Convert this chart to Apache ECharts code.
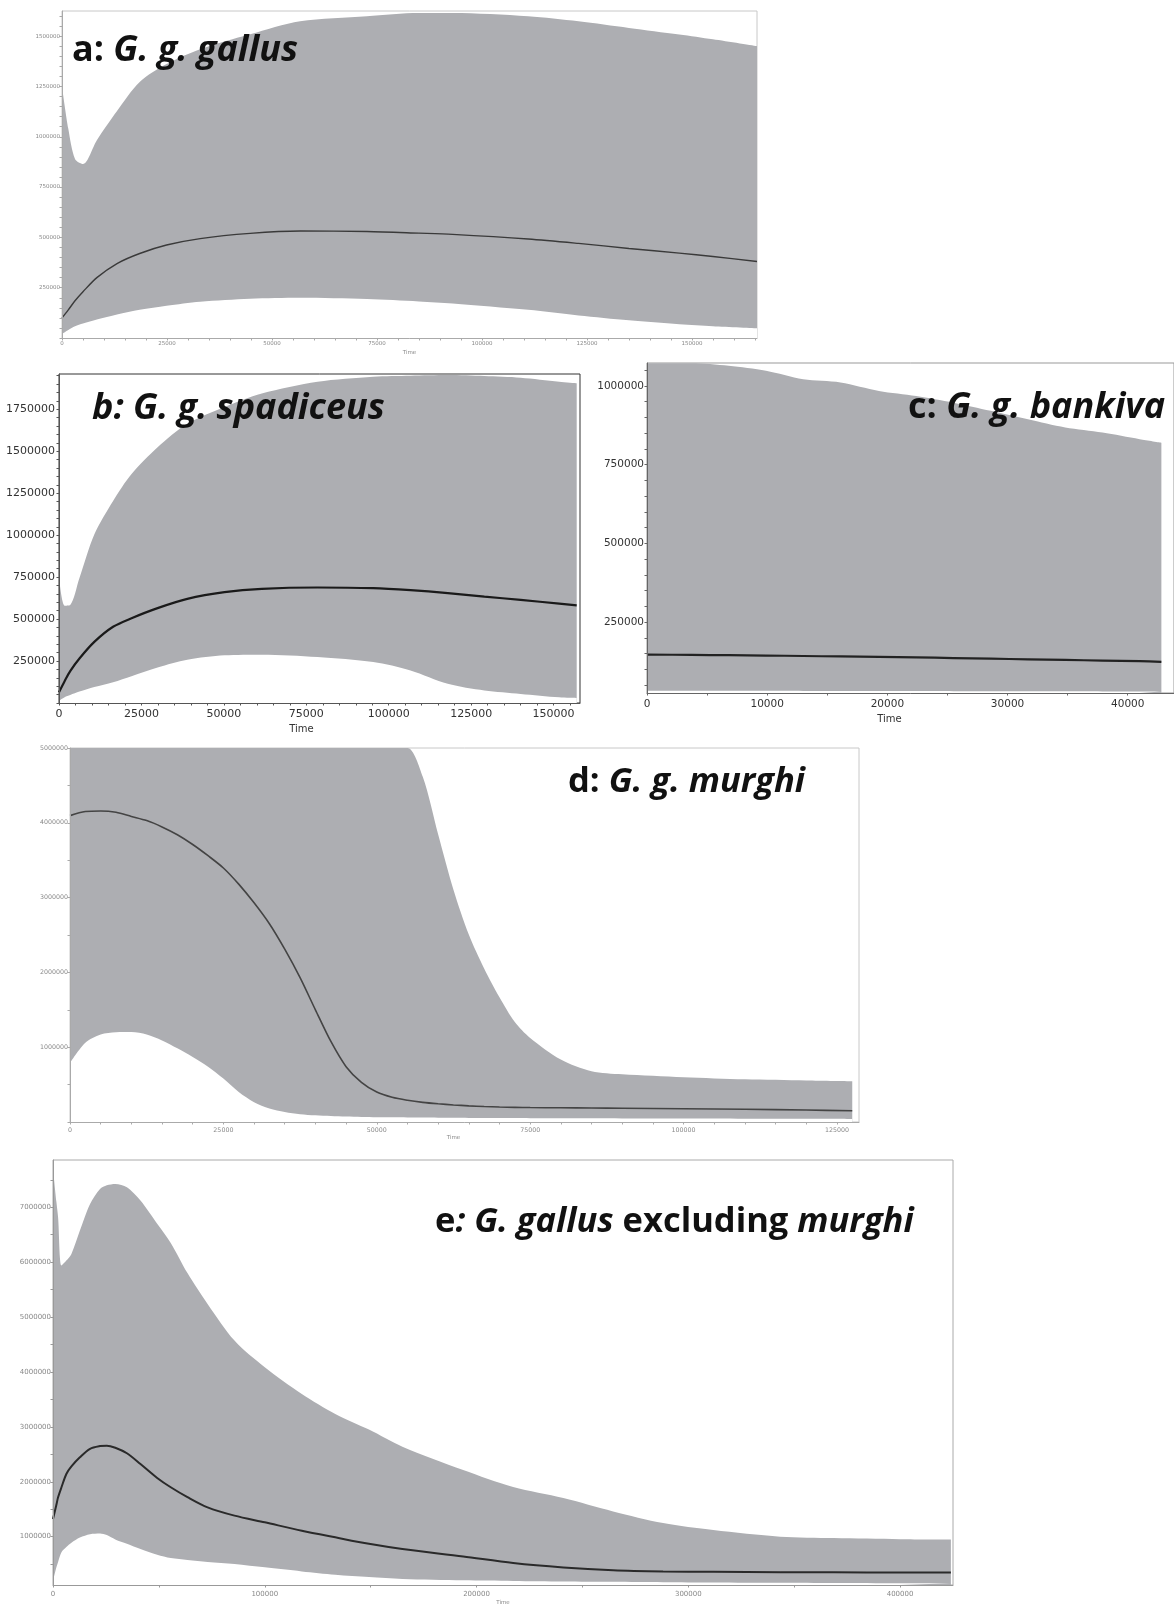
<!DOCTYPE html>
<html><head><meta charset="utf-8">
<script src="https://cdn.jsdelivr.net/npm/echarts@6/dist/echarts.min.js"></script>
<style>html,body{margin:0;padding:0;background:#fff}#c{width:1174px;height:1607px}</style>
</head><body><div id="c"></div>
<script>
// ---------- Panel a: G. g. gallus ----------
const aTime   = [0, 1500, 3100, 5000, 8300, 13100, 18500, 24900, 32900, 44800, 56700, 72600, 85000, 93000, 111000, 123000, 135000, 147000, 155000, 165500];
const aUpper  = [1250000, 1040000, 890000, 865000, 983000, 1128000, 1272000, 1361000, 1435000, 1509000, 1574000, 1599000, 1615000, 1615000, 1599000, 1574000, 1541000, 1508000, 1484000, 1450000];
const aMedian = [100000, 140000, 185000, 230000, 300000, 370000, 420000, 462000, 494000, 520000, 532000, 529000, 521000, 515000, 492000, 470000, 445000, 422000, 405000, 380000];
const aLower  = [20000, 40000, 58000, 72000, 92000, 117000, 140000, 160000, 180000, 195000, 200000, 194000, 182000, 172000, 140000, 112000, 88000, 68000, 58000, 48000];
const aXTicks = [0, 25000, 50000, 75000, 100000, 125000, 150000];
const aYTicks = [250000, 500000, 750000, 1000000, 1250000, 1500000];

// ---------- Panel b: G. g. spadiceus ----------
const bTime   = [0, 1700, 3400, 6200, 10700, 16400, 22000, 29900, 38900, 50200, 61500, 78400, 95300, 106600, 117900, 129000, 140000, 151700, 157000];
const bUpper  = [750000, 580000, 584000, 744000, 1004000, 1204000, 1364000, 1524000, 1664000, 1764000, 1844000, 1914000, 1944000, 1950000, 1954000, 1948000, 1938000, 1914000, 1905000];
const bMedian = [64000, 130000, 190000, 265000, 364000, 454000, 505000, 565000, 620000, 660000, 680000, 688000, 684000, 672000, 655000, 634000, 614000, 592000, 582000];
const bLower  = [14000, 35000, 48000, 68000, 95000, 124000, 160000, 212000, 258000, 284000, 288000, 274000, 244000, 194000, 114000, 74000, 54000, 34000, 30000];
const bXTicks = [0, 25000, 50000, 75000, 100000, 125000, 150000];
const bYTicks = [250000, 500000, 750000, 1000000, 1250000, 1500000, 1750000];

// ---------- Panel c: G. g. bankiva ----------
const cTime   = [0, 3700, 6800, 9900, 13000, 16100, 19300, 22400, 25500, 28600, 31700, 34800, 37900, 41000, 42800];
const cUpper  = [1072000, 1072000, 1064000, 1048000, 1021000, 1011000, 984000, 968000, 947000, 921000, 894000, 868000, 852000, 831000, 820000];
const cMedian = [147000, 146000, 145000, 144000, 142500, 141000, 139500, 138000, 136000, 134000, 132000, 130000, 128000, 126000, 124000];
const cLower  = [32000, 32000, 32000, 31800, 31600, 31400, 31200, 31000, 30800, 30600, 30400, 30200, 30000, 30000, 30000];
const cXTicks = [0, 10000, 20000, 30000, 40000];
const cYTicks = [250000, 500000, 750000, 1000000];

// ---------- Panel d: G. g. murghi ----------
const dTime   = [0, 2500, 5000, 7500, 10000, 12500, 15000, 17500, 20000, 22500, 25000, 27500, 30000, 32500, 35000, 37500, 40000, 42500, 45000, 47500, 50000, 52500, 55000, 57500, 60000, 62500, 65000, 67500, 70000, 72500, 75000, 80000, 85000, 90000, 100000, 110000, 120000, 127500];
const dUpper  = [5000000, 5000000, 5000000, 5000000, 5000000, 5000000, 5000000, 5000000, 5000000, 5000000, 5000000, 5000000, 5000000, 5000000, 5000000, 5000000, 5000000, 5000000, 5000000, 5000000, 5000000, 5000000, 5000000, 4615000, 3848000, 3106000, 2506000, 2053000, 1667000, 1336000, 1124000, 835000, 678000, 637000, 598000, 570000, 555000, 545000];
const dMedian = [4096000, 4150000, 4158000, 4140000, 4085000, 4030000, 3945000, 3840000, 3710000, 3560000, 3396000, 3180000, 2930000, 2650000, 2310000, 1930000, 1500000, 1080000, 740000, 530000, 400000, 330000, 290000, 262000, 243000, 228000, 216000, 207000, 200000, 196000, 193000, 190000, 187000, 184000, 177000, 170000, 160000, 150000];
const dLower  = [790000, 1060000, 1170000, 1200000, 1203000, 1169000, 1090000, 985000, 870000, 740000, 580000, 400000, 265000, 180000, 135000, 105000, 90000, 80000, 72000, 68000, 65000, 63000, 61000, 59000, 57000, 56000, 55000, 54000, 53000, 52000, 51000, 50000, 49000, 48000, 46000, 44000, 42000, 40000];
const dXTicks = [0, 25000, 50000, 75000, 100000, 125000];
const dYTicks = [1000000, 2000000, 3000000, 4000000, 5000000];

// ---------- Panel e: G. gallus excluding murghi ----------
const eTime   = [0, 1600, 2400, 4000, 6300, 8700, 12700, 17500, 22200, 25400, 29400, 34900, 41300, 49200, 55600, 63500, 73000, 85700, 100000, 117500, 133300, 149200, 165000, 193700, 217300, 241000, 264500, 288100, 311800, 343400, 368700, 400000, 424000];
const eUpper  = [7700000, 7100000, 6818000, 5937000, 6028000, 6150000, 6575000, 7060000, 7334000, 7400000, 7425000, 7364000, 7122000, 6700000, 6350000, 5800000, 5239000, 4571000, 4085000, 3599000, 3235000, 2950000, 2640000, 2213000, 1904000, 1703000, 1460000, 1248000, 1120000, 1000000, 975000, 955000, 947000];
const eMedian = [1322000, 1580000, 1717000, 1900000, 2142000, 2280000, 2445000, 2600000, 2650000, 2658000, 2620000, 2520000, 2324000, 2070000, 1900000, 1720000, 1534000, 1383000, 1261000, 1109000, 988000, 870000, 775000, 640000, 520000, 440000, 390000, 368000, 360000, 354000, 350000, 347000, 346000];
const eLower  = [198000, 441000, 540000, 715000, 810000, 890000, 985000, 1045000, 1058000, 1030000, 950000, 870000, 775000, 670000, 610000, 575000, 540000, 502000, 441000, 368000, 308000, 265000, 229000, 205000, 195000, 185000, 178000, 172000, 166000, 160000, 156000, 152000, 150000];
const eXTicks = [0, 100000, 200000, 300000, 400000];
const eYTicks = [1000000, 2000000, 3000000, 4000000, 5000000, 6000000, 7000000];

const titles = [
  {x: 72,  y: 53,   size: 36,   rich: [['u', 'a:'], ['s', ' '], ['i', 'G. g. gallus']]},
  {x: 92,  y: 411,  size: 36,   rich: [['i', 'b: G. g. spadiceus']]},
  {x: 908, y: 410,  size: 36,   rich: [['u', 'c:'], ['s', ' '], ['i', 'G. g. bankiva']]},
  {x: 568, y: 785,  size: 34.5, rich: [['u', 'd:'], ['s', ' '], ['i', 'G. g. murghi']]},
  {x: 435, y: 1225, size: 34.5, rich: [['u', 'e'], ['i', ': G. gallus'], ['s', ' '], ['u', 'excluding'], ['s', ' '], ['i', 'murghi']]}
];

// ---------- styling / layout ----------
const FILL = '#adaeb2';
const panels = [
  {t: aTime, lo: aLower, med: aMedian, hi: aUpper, xl: aXTicks, yl: aYTicks,
   grid: {left: 62, top: 11, width: 695, height: 327}, xMax: 165500, yMin: 0, yMax: 1625000,
   xMinor: 5000, yMinor: 50000, fs: 5.5, lc: '#888', axc: '#aaa', bc: '#c8c8c8', medC: '#3a3a3a', medW: 1.4,
   xm: 3, ym: 2, nameGap: 12, nameFs: 5.5, namePad: [0, 0, 0, 0]},
  {t: bTime, lo: bLower, med: bMedian, hi: bUpper, xl: bXTicks, yl: bYTicks,
   grid: {left: 59, top: 374, width: 521, height: 329}, xMax: 158000, yMin: 0, yMax: 1960000,
   xMinor: 5000, yMinor: 50000, fs: 11, lc: '#333', axc: '#555', bc: '#333', medC: '#1a1a1a', medW: 2.2,
   xm: 6, ym: 4, nameGap: 21, nameFs: 10, namePad: [0, 36, 0, 0]},
  {t: cTime, lo: cLower, med: cMedian, hi: cUpper, xl: cXTicks, yl: cYTicks,
   grid: {left: 647, top: 363, width: 535, height: 330}, xMax: 43850, yMin: 25000, yMax: 1073000,
   xMinor: 5000, yMinor: 50000, fs: 10.5, lc: '#333', axc: '#666', bc: '#999', medC: '#222', medW: 2.2,
   xm: 6, ym: 3, nameGap: 21, nameFs: 10, namePad: [0, 42, 0, 0]},
  {t: dTime, lo: dLower, med: dMedian, hi: dUpper, xl: dXTicks, yl: dYTicks,
   grid: {left: 70, top: 748, width: 789, height: 374}, xMax: 128600, yMin: 0, yMax: 5000000,
   xMinor: 5000, yMinor: 500000, fs: 6.3, lc: '#888', axc: '#aaa', bc: '#c8c8c8', medC: '#444', medW: 1.6,
   xm: 5, ym: 2, nameGap: 13, nameFs: 5.5, namePad: [0, 22, 0, 0]},
  {t: eTime, lo: eLower, med: eMedian, hi: eUpper, xl: eXTicks, yl: eYTicks,
   grid: {left: 53, top: 1160, width: 900, height: 425}, xMax: 425000, yMin: 120000, yMax: 7860000,
   xMinor: 50000, yMinor: 500000, fs: 7, lc: '#888', axc: '#999', bc: '#aaa', medC: '#2a2a2a', medW: 2,
   xm: 6, ym: 2, nameGap: 15, nameFs: 5.5, namePad: [0, 0, 0, 0]}
];

function pairs(t, v) { return t.map((x, i) => [x, v[i]]); }
function steps(a, b, s) { const r = []; for (let v = Math.ceil(a / s) * s; v <= b + 1e-6; v += s) r.push(v); return r; }

const grid = [], xAxis = [], yAxis = [], series = [];
panels.forEach((p, i) => {
  grid.push(Object.assign({show: true, borderColor: p.bc, borderWidth: 1, backgroundColor: 'transparent'}, p.grid));
  xAxis.push({
    gridIndex: i, type: 'value', min: 0, max: p.xMax, z: 10,
    name: 'Time', nameLocation: 'middle', nameGap: p.nameGap,
    nameTextStyle: {fontFamily: 'DejaVu Sans', fontSize: p.nameFs, color: p.lc, padding: p.namePad},
    axisLine: {show: true, onZero: false, lineStyle: {color: p.axc, width: 1}},
    axisTick: {show: true, length: 2.5, customValues: steps(0, p.xMax, p.xMinor), lineStyle: {color: p.axc}},
    axisLabel: {customValues: p.xl, formatter: v => String(v), fontFamily: 'DejaVu Sans', fontSize: p.fs, color: p.lc, margin: p.xm},
    splitLine: {show: false}
  });
  yAxis.push({
    gridIndex: i, type: 'value', min: p.yMin, max: p.yMax, z: 10,
    axisLine: {show: true, onZero: false, lineStyle: {color: p.axc, width: 1}},
    axisTick: {show: true, length: 2.5, customValues: steps(p.yMin, p.yMax, p.yMinor), lineStyle: {color: p.axc}},
    axisLabel: {customValues: p.yl, formatter: v => String(v), fontFamily: 'DejaVu Sans', fontSize: p.fs, color: p.lc, margin: p.ym},
    splitLine: {show: false}
  });
  const common = {type: 'line', xAxisIndex: i, yAxisIndex: i, symbol: 'none', silent: true,
    smooth: 0.3, animation: false, clip: true};
  series.push(Object.assign({}, common, {data: pairs(p.t, p.hi), lineStyle: {width: 0},
    areaStyle: {color: FILL, opacity: 1, origin: 'start'}, z: 2}));
  series.push(Object.assign({}, common, {data: pairs(p.t, p.lo), lineStyle: {width: 0},
    areaStyle: {color: '#ffffff', opacity: 1, origin: 'start'}, z: 3}));
  series.push(Object.assign({}, common, {data: pairs(p.t, p.med),
    lineStyle: {color: p.medC, width: p.medW}, z: 4}));
});

const FONT = '"Open Sans", "Noto Sans", sans-serif';
function richFor(size) {
  const base = {fontFamily: FONT, fontWeight: 'bold', fontSize: size, fill: '#111', lineHeight: 40};
  return {
    u: Object.assign({}, base, {fontStyle: 'normal'}),
    i: Object.assign({}, base, {fontStyle: 'italic'}),
    s: Object.assign({}, base)
  };
}
const graphic = titles.map(tt => ({
  type: 'text', left: tt.x, top: tt.y - 20, z: 100,
  style: {text: tt.rich.map(r => '{' + r[0] + '|' + r[1] + '}').join(''), rich: richFor(tt.size)}
}));

const chart = echarts.init(document.getElementById('c'), null, {renderer: 'canvas'});
chart.setOption({animation: false, grid, xAxis, yAxis, series, graphic});
</script>
</body></html>
